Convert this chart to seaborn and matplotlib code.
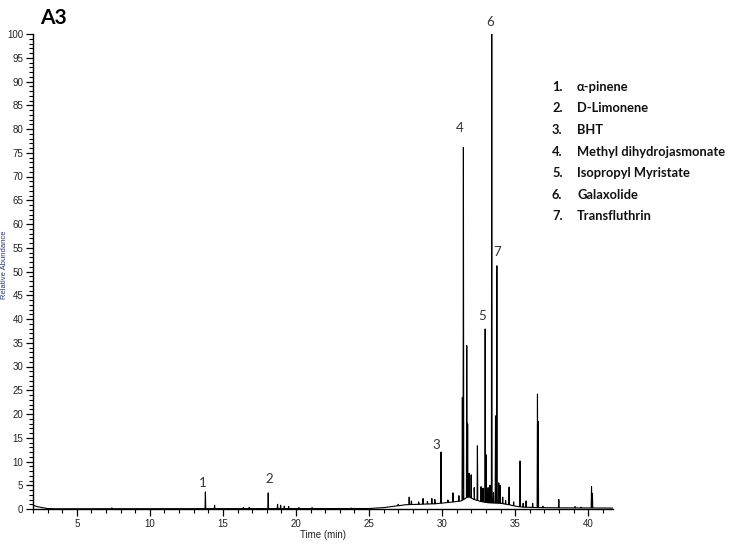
import numpy as np
import pandas as pd
import matplotlib
matplotlib.use("Agg")
import matplotlib.pyplot as plt
from matplotlib.ticker import MultipleLocator
import seaborn as sns

# ---- data ----
baseline_t = [2.0, 2.3, 2.6, 3.0, 3.5, 25.0, 26.0, 26.8, 27.5, 28.5, 29.5, 30.2, 30.8,
              31.3, 31.8, 32.2, 32.6, 33.2, 34.0, 34.6, 35.0, 35.5, 36.5, 37.5, 41.7]
baseline_v = [0.8, 0.5, 0.3, 0.1, 0.05, 0.1, 0.3, 0.6, 0.9, 1.0, 1.1, 1.3, 1.5,
              1.7, 2.6, 2.0, 1.6, 1.3, 1.2, 0.9, 0.6, 0.4, 0.3, 0.25, 0.2]

peak_t = [7.4, 13.80, 14.43, 16.4, 16.8, 18.10, 18.74, 18.95, 19.2, 19.5, 20.2, 21.1,
          23.8, 26.0, 27.0, 27.75, 27.9, 28.4, 28.7, 29.0, 29.3, 29.5, 29.93, 30.4,
          30.75, 31.15, 31.39, 31.46, 31.69, 31.75, 31.85, 31.99, 32.2, 32.42, 32.67,
          32.8, 32.95, 33.02, 33.15, 33.28, 33.40, 33.52, 33.66, 33.75, 33.88, 33.97,
          34.15, 34.35, 34.59, 34.9, 35.34, 35.55, 35.75, 36.2, 36.53, 36.58, 36.9,
          37.99, 39.1, 39.5, 40.23, 40.29]
peak_h = [0.25, 3.6, 0.8, 0.3, 0.35, 3.4, 1.0, 0.8, 0.6, 0.5, 0.3, 0.3,
          0.2, 0.3, 1.0, 2.5, 1.7, 1.5, 2.2, 1.6, 2.2, 2.0, 12.0, 1.9,
          3.4, 2.8, 23.5, 76.1, 34.4, 17.9, 7.5, 7.2, 4.5, 13.3, 4.7,
          4.4, 37.9, 11.4, 4.5, 5.0, 100.0, 3.5, 19.6, 51.2, 5.5, 5.0,
          2.5, 1.8, 4.6, 1.5, 10.1, 1.2, 1.7, 1.2, 24.2, 18.4, 0.6,
          2.0, 0.5, 0.4, 4.7, 3.3]

label_names = ["1", "2", "3", "4", "5", "6", "7"]
label_t = [13.63, 18.15, 29.59, 31.23, 32.74, 33.29, 33.77]
label_v = [5.5, 6.3, 13.5, 80.2, 40.6, 102.5, 54.1]

compounds = ["α-pinene", "D-Limonene", "BHT", "Methyl dihydrojasmonate",
             "Isopropyl Myristate", "Galaxolide", "Transfluthrin"]

x_ticks = [5, 10, 15, 20, 25, 30, 35, 40]
y_ticks = list(range(0, 101, 5))

# ---- build trace: baseline points + narrow peaks ----
w = 0.025
pts = list(zip(baseline_t, baseline_v))
for t, h in zip(peak_t, peak_h):
    b = float(np.interp(t, baseline_t, baseline_v))
    pts += [(t - w, b), (t, max(h, b)), (t + w, b)]
pts.sort(key=lambda p: p[0])
df = pd.DataFrame(pts, columns=["Time (min)", "Relative Abundance"])

# ---- figure ----
sns.set_style("ticks")
plt.rcParams["font.family"] = ["Liberation Sans", "DejaVu Sans"]

fig = plt.figure(figsize=(7.54, 5.58), dpi=100)
W, H = 754, 558
ax = fig.add_axes([33 / W, 1 - 509 / H, (613 - 33) / W, (509 - 34) / H])

sns.lineplot(data=df, x="Time (min)", y="Relative Abundance", ax=ax,
             color="black", lw=0.8, estimator=None, sort=False)

ax.set_xlim(2.0, 41.7)
ax.set_ylim(0, 100)
ax.set_xticks(x_ticks)
ax.set_yticks(y_ticks)
ax.xaxis.set_minor_locator(MultipleLocator(1))
ax.yaxis.set_minor_locator(MultipleLocator(1))
ax.tick_params(axis="both", which="major", length=5, width=0.9, labelsize=7,
               labelcolor="#222222", pad=2, color="black")
ax.tick_params(axis="both", which="minor", length=3, width=0.8, color="black")
for s in ["top", "right"]:
    ax.spines[s].set_visible(False)
for s in ["left", "bottom"]:
    ax.spines[s].set_linewidth(1.0)
    ax.spines[s].set_color("black")

ax.set_xlabel("Time (min)", fontsize=7, color="#222222", labelpad=1)
ax.set_ylabel("")
fig.text(4.5 / W, 1 - 265 / H, "Relative Abundance", rotation=90, ha="center",
         va="center", fontsize=5.5, color="#2b3a70")

# peak numbers
for name, t, v in zip(label_names, label_t, label_v):
    ax.text(t, v, name, ha="center", va="center", fontsize=9.5, color="#333333",
            family=["Lato", "DejaVu Sans"], clip_on=False)

# compound list
ys = [87, 108, 130, 152, 173, 195, 216]
for i, (name, y) in enumerate(zip(compounds, ys)):
    fig.text(552 / W, 1 - y / H, f"{i + 1}.", ha="left", va="center", fontsize=9.3,
             fontweight="bold", color="#111111", family=["Lato", "DejaVu Sans"])
    fig.text(577 / W, 1 - y / H, name, ha="left", va="center", fontsize=9.3,
             fontweight="bold", color="#111111", family=["Lato", "DejaVu Sans"])

fig.text(40 / W, 1 - 18 / H, "A3", ha="left", va="center", fontsize=15,
         fontweight="bold", color="black", family=["Lato", "DejaVu Sans"])

fig.savefig("out.png", dpi=100)
